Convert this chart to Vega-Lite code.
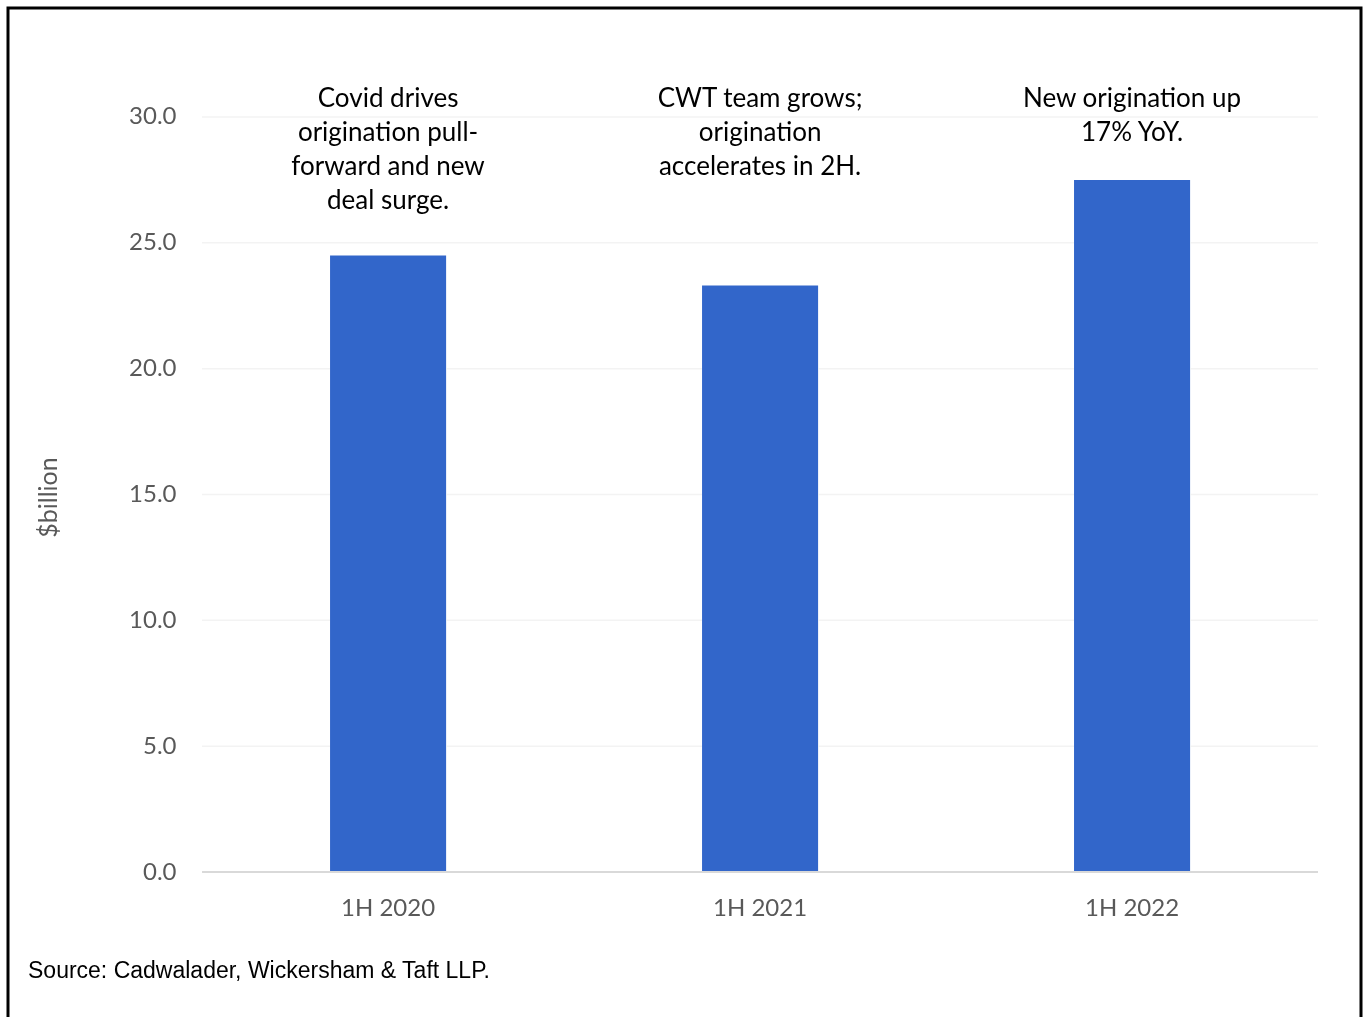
{
  "$schema": "https://vega.github.io/schema/vega-lite/v6.json",
  "width": 1353,
  "height": 1022,
  "autosize": {"type": "none"},
  "padding": {"left": 8, "top": 8, "right": 6, "bottom": 0},
  "background": "white",
  "config": {
    "view": {"stroke": "#000000", "strokeWidth": 3},
    "font": "Lato"
  },
  "title": {
    "text": "Source: Cadwalader, Wickersham & Taft LLP.",
    "orient": "bottom",
    "anchor": "start",
    "frame": "group",
    "font": "Liberation Sans",
    "fontSize": 23,
    "fontWeight": "normal",
    "color": "#000000",
    "offset": -70,
    "dx": 20
  },
  "datasets": {
    "bars": [
      {"period": "1H 2020", "value": 24.5, "note": ["Covid drives", "origination pull-", "forward and new", "deal surge."]},
      {"period": "1H 2021", "value": 23.3, "note": ["CWT team grows;", "origination", "accelerates in 2H."]},
      {"period": "1H 2022", "value": 27.5, "note": ["New origination up", "17% YoY."]}
    ],
    "grid": [
      {"tick": 5}, {"tick": 10}, {"tick": 15}, {"tick": 20}, {"tick": 25}, {"tick": 30}
    ],
    "base": [{"tick": 0}]
  },
  "layer": [
    {
      "data": {"name": "bars"},
      "mark": {"type": "bar", "color": "#3266CA"},
      "encoding": {
        "x": {
          "field": "period",
          "type": "nominal",
          "scale": {"paddingInner": 0.688, "paddingOuter": 0.6626, "align": 0.6533},
          "axis": {
            "title": null,
            "labelAngle": 0,
            "domain": false,
            "ticks": false,
            "grid": false,
            "bandPosition": 0.5,
            "offset": -158,
            "labelFont": "Lato",
            "labelFontSize": 24,
            "labelColor": "#595959",
            "labelPadding": 24
          }
        },
        "y": {
          "field": "value",
          "type": "quantitative",
          "scale": {"domain": [-6.278, 34.331], "nice": false, "zero": false},
          "axis": {
            "title": "$billion",
            "values": [0, 5, 10, 15, 20, 25, 30],
            "format": ".1f",
            "offset": -194,
            "domain": false,
            "ticks": false,
            "grid": false,
            "labelFont": "Lato",
            "labelFontSize": 24,
            "labelColor": "#595959",
            "labelPadding": 26,
            "titleFont": "Lato",
            "titleFontSize": 25,
            "titleFontWeight": "normal",
            "titleColor": "#595959",
            "titleX": -154,
            "titleY": 489,
            "titleBaseline": "middle",
            "titleAngle": -90
          }
        },
        "y2": {"datum": 0}
      }
    },
    {
      "data": {"name": "grid"},
      "mark": {"type": "rule", "color": "#f3f3f3", "strokeWidth": 1.5, "blend": "darken"},
      "encoding": {
        "y": {"field": "tick", "type": "quantitative"},
        "x": {"datum": "1H 2020", "bandPosition": -1.103},
        "x2": {"datum": "1H 2022", "bandPosition": 2.102}
      }
    },
    {
      "data": {"name": "base"},
      "mark": {"type": "rule", "color": "#d9d9d9", "strokeWidth": 2},
      "encoding": {
        "y": {"field": "tick", "type": "quantitative"},
        "x": {"datum": "1H 2020", "bandPosition": -1.103},
        "x2": {"datum": "1H 2022", "bandPosition": 2.102}
      }
    },
    {
      "data": {"name": "bars"},
      "mark": {"type": "text", "baseline": "top", "align": "center", "fontSize": 26, "lineHeight": 34, "color": "#000000", "font": "Lato"},
      "encoding": {
        "x": {"field": "period", "type": "nominal"},
        "y": {"datum": 31.25},
        "text": {"field": "note"}
      }
    }
  ]
}
